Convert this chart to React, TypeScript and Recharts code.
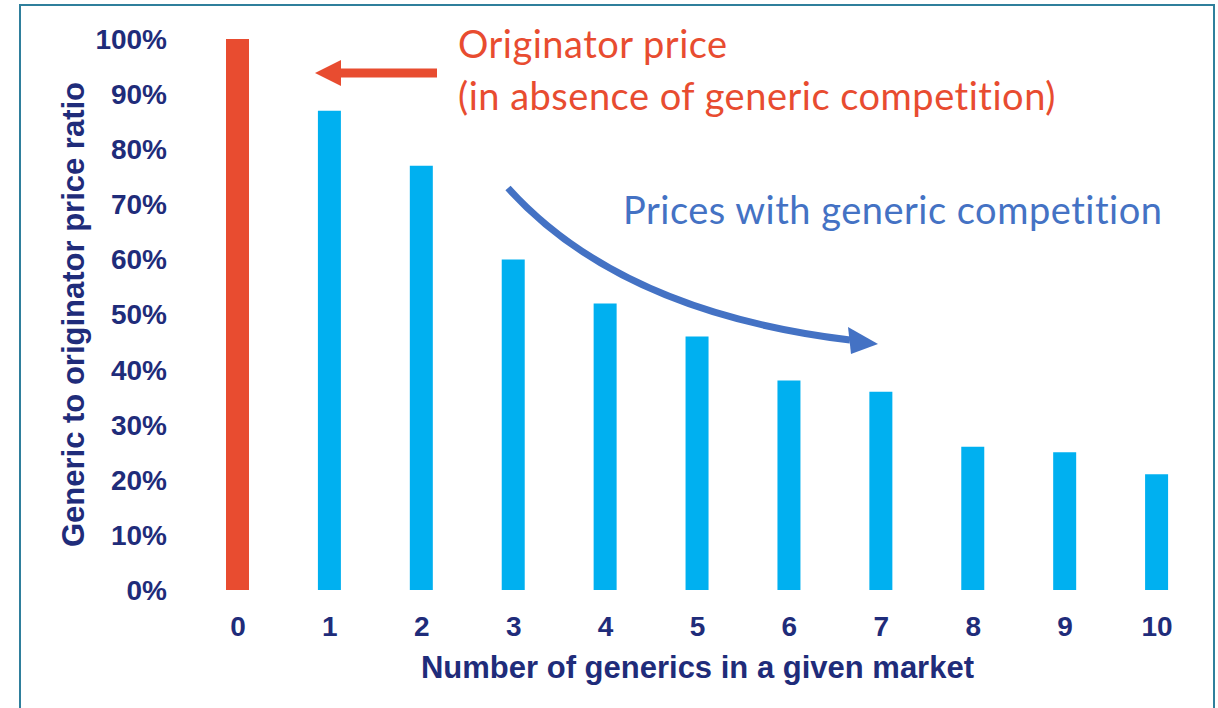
import { BarChart, Bar, XAxis, YAxis, Cell } from 'recharts'

const generics = ['0', '1', '2', '3', '4', '5', '6', '7', '8', '9', '10']
const priceRatio = [100, 87, 77, 60, 52, 46, 38, 36, 26, 25, 21]
const yTicks = [0, 10, 20, 30, 40, 50, 60, 70, 80, 90, 100]

const data = generics.map((g, i) => ({ generics: g, ratio: priceRatio[i] }))

const NAVY = '#1f2c7a'
const RED = '#e84c30'
const BLUE = '#00b0f0'
const ARROW_BLUE = '#4472c4'
const AXIS_FONT = '"Liberation Sans", Arial, sans-serif'
const NOTE_FONT = 'Lato, "Open Sans", sans-serif'

const YTitle = (props: any) => {
  const vb = props.viewBox || { y: 39, height: 551 }
  const cx = 73
  const cy = vb.y + vb.height / 2
  return (
    <text
      x={cx}
      y={cy}
      transform={`rotate(-90, ${cx}, ${cy})`}
      textAnchor="middle"
      dominantBaseline="central"
      fill={NAVY}
      fontFamily={AXIS_FONT}
      fontWeight="bold"
      fontSize={31}
    >
      Generic to originator price ratio
    </text>
  )
}

const XTitle = (props: any) => {
  const vb = props.viewBox || { x: 192, width: 1011 }
  return (
    <text
      x={vb.x + vb.width / 2}
      y={678}
      textAnchor="middle"
      fill={NAVY}
      fontFamily={AXIS_FONT}
      fontWeight="bold"
      fontSize={31}
    >
      Number of generics in a given market
    </text>
  )
}

const App = () => {
  const tickStyle = { fill: NAVY, fontFamily: AXIS_FONT, fontWeight: 'bold', fontSize: 28 }
  return (
    <div style={{ position: 'absolute', left: 0, top: 0, width: 1218, height: 708, overflow: 'hidden', background: '#fff' }}>
      <div
        style={{
          position: 'absolute',
          left: 19,
          top: 4,
          width: 1196,
          height: 720,
          border: '2px solid #2f7f9c',
          boxSizing: 'border-box',
        }}
      />
      <BarChart
        width={1218}
        height={708}
        data={data}
        margin={{ top: 39, right: 15, bottom: 38, left: 92 }}
        style={{ position: 'absolute', left: 0, top: 0 }}
      >
        <XAxis
          dataKey="generics"
          height={80}
          axisLine={false}
          tickLine={false}
          tickSize={0}
          tickMargin={26}
          tick={tickStyle}
          interval={0}
          label={XTitle}
        />
        <YAxis
          width={100}
          domain={[0, 100]}
          ticks={yTicks}
          tickFormatter={(v) => `${v}%`}
          axisLine={false}
          tickLine={false}
          tickSize={0}
          tickMargin={25}
          tick={tickStyle}
          interval={0}
          label={YTitle}
        />
        <Bar dataKey="ratio" barSize={23} isAnimationActive={false}>
          {data.map((d, i) => (
            <Cell key={d.generics} fill={i === 0 ? RED : BLUE} />
          ))}
        </Bar>
      </BarChart>
      <svg width={1218} height={708} style={{ position: 'absolute', left: 0, top: 0, pointerEvents: 'none' }}>
        {/* originator callout */}
        <line x1={437} y1={73} x2={336} y2={73} stroke={RED} strokeWidth={9} />
        <polygon points="315,73 341,60 341,86" fill={RED} />
        <text x={458} y={58} fill={RED} fontFamily={NOTE_FONT} fontSize={38} letterSpacing={0.5}>
          Originator price
        </text>
        <text x={458} y={110} fill={RED} fontFamily={NOTE_FONT} fontSize={38} letterSpacing={0.5}>
          (in absence of generic competition)
        </text>
        {/* generic competition callout */}
        <path d="M 508 188 Q 620 312 850 340" fill="none" stroke={ARROW_BLUE} strokeWidth={7} />
        <polygon points="878,344 848,327 851,354" fill={ARROW_BLUE} />
        <text x={623} y={224} fill={ARROW_BLUE} fontFamily={NOTE_FONT} fontSize={38} letterSpacing={0.5}>
          Prices with generic competition
        </text>
      </svg>
    </div>
  )
}

export default App
